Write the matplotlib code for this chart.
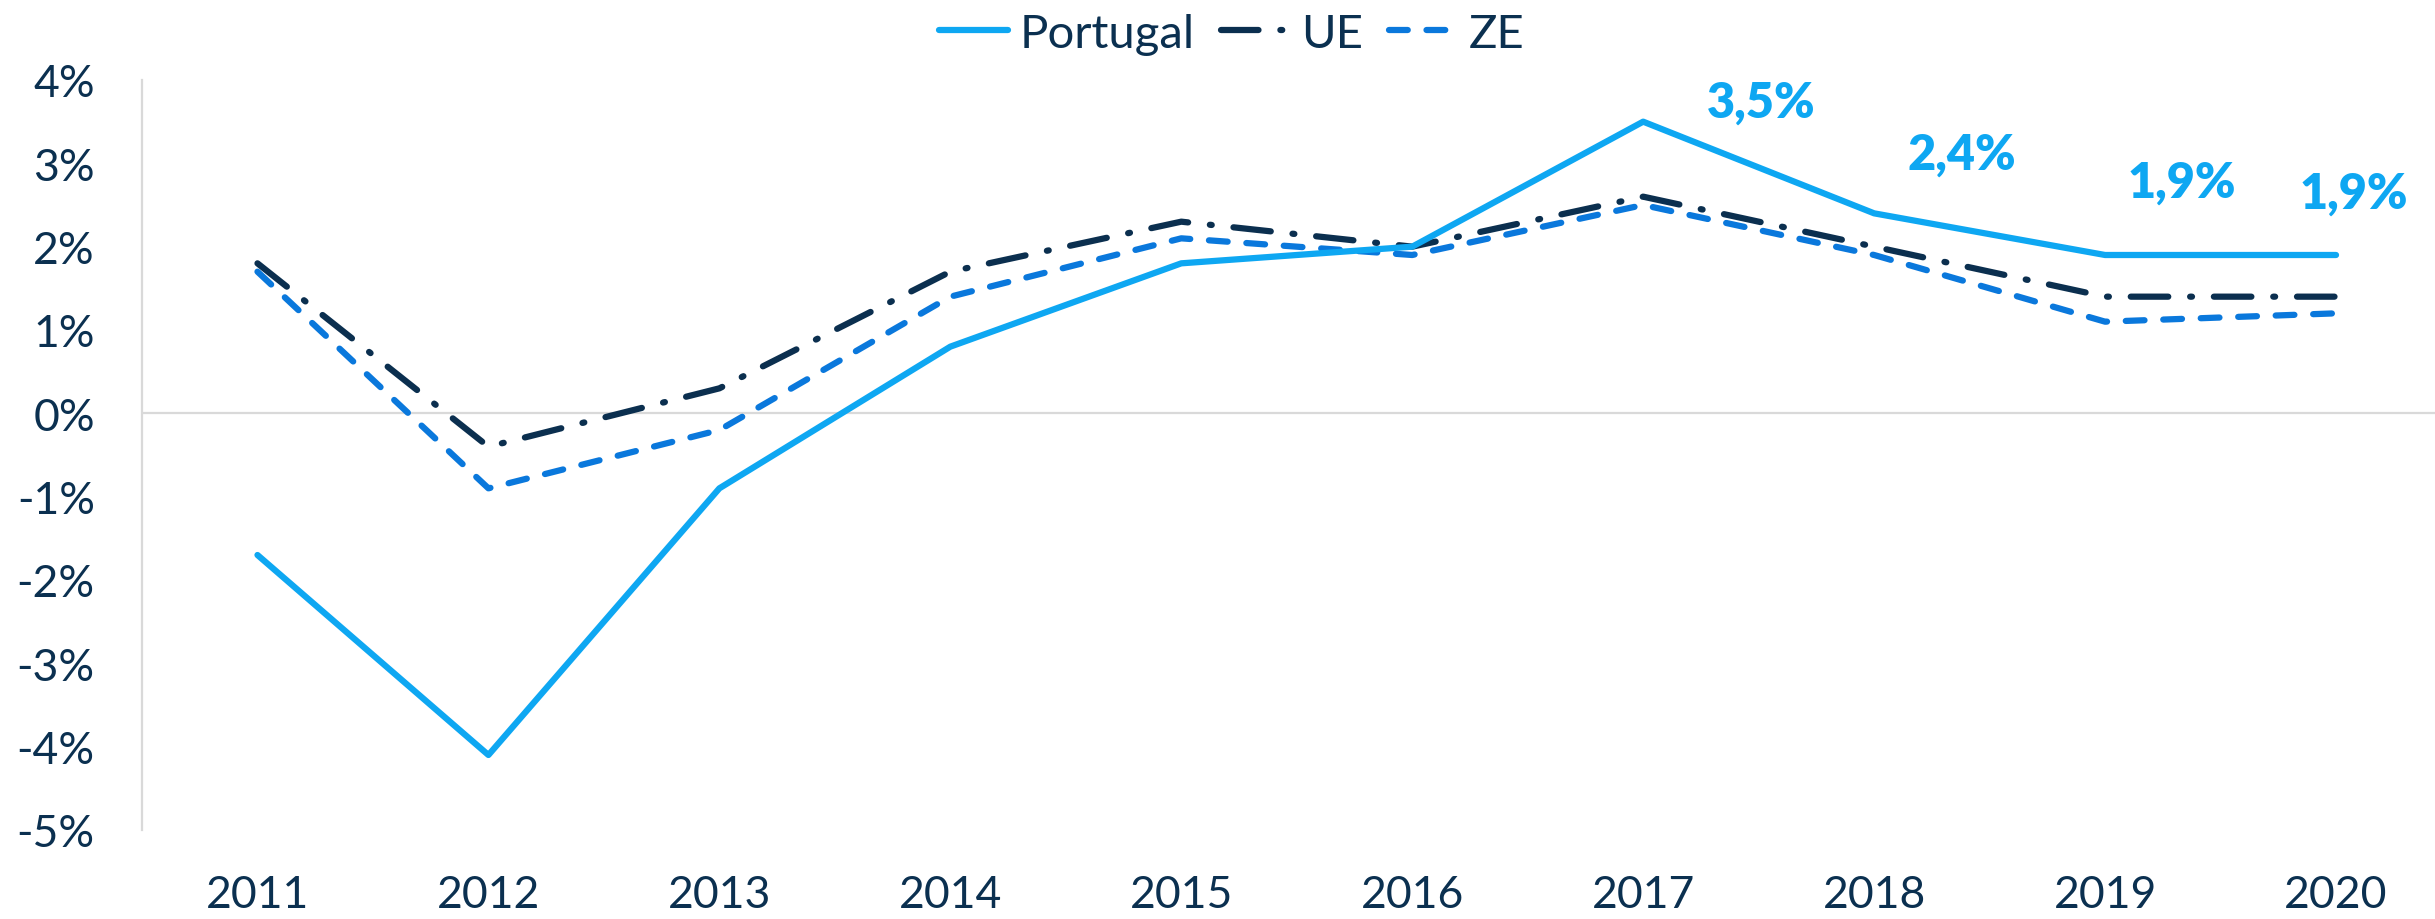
import matplotlib
matplotlib.use("Agg")
import matplotlib.pyplot as plt
from matplotlib.ticker import FuncFormatter

plt.rcParams['font.family'] = ['Lato', 'DejaVu Sans']

years = ['2011', '2012', '2013', '2014', '2015', '2016', '2017', '2018', '2019', '2020']
portugal = [-1.7, -4.1, -0.9, 0.8, 1.8, 2.0, 3.5, 2.4, 1.9, 1.9]
ue = [1.8, -0.4, 0.3, 1.7, 2.3, 2.0, 2.6, 2.0, 1.4, 1.4]
ze = [1.7, -0.9, -0.2, 1.4, 2.1, 1.9, 2.5, 1.9, 1.1, 1.2]
label_years = ['2017', '2018', '2019', '2020']
label_texts = ['3,5%', '2,4%', '1,9%', '1,9%']
label_offsets = [(118, 20), (88, 59), (77, 73), (18, 62)]  # pixel offsets (style)

TEXT = '#0B3050'
C_PT = '#0EA7F2'
C_UE = '#0B2F4F'
C_ZE = '#0A78DC'
GRID = '#D9D9D9'

fig = plt.figure(figsize=(24.35, 9.2), dpi=100)
ax = fig.add_axes([142/2435, 1-831/920, 1-142/2435, (831-81)/920])

x = list(range(len(years)))
lw = 4.5
ax.plot(x, portugal, color=C_PT, lw=lw, label='Portugal', solid_capstyle='round', zorder=4)
ax.plot(x, ue, color=C_UE, lw=lw, label='UE', dashes=(6, 3.5, 0.3, 3.5),
        dash_capstyle='round', zorder=3)
ax.plot(x, ze, color=C_ZE, lw=lw, label='ZE', dashes=(3, 3),
        dash_capstyle='round', zorder=3)

for yr, txt, (dx, dy) in zip(label_years, label_texts, label_offsets):
    i = years.index(yr)
    ax.annotate(txt, (i, portugal[i]), xytext=(dx, dy), textcoords='offset pixels',
                ha='center', va='center', fontsize=35, fontweight='heavy', color=C_PT)

ax.axhline(0, color=GRID, lw=1.6, zorder=1)
ax.set_xlim(-0.5, 9 + 99/231)
ax.set_ylim(-5, 4)
ax.set_yticks(range(-5, 5))
ax.yaxis.set_major_formatter(FuncFormatter(lambda v, p: f'{int(v)}%'))
ax.set_xticks(x)
ax.set_xticklabels(years)
for s in ['top', 'right', 'bottom']:
    ax.spines[s].set_visible(False)
ax.spines['left'].set_color(GRID)
ax.spines['left'].set_linewidth(1.6)
ax.tick_params(axis='y', length=0, pad=34, labelsize=32, labelcolor=TEXT)
ax.tick_params(axis='x', length=0, pad=32, labelsize=32, labelcolor=TEXT)

fig.legend(loc='center', bbox_to_anchor=(0.506, 0.962), ncol=3, frameon=False,
           fontsize=34, labelcolor=TEXT, handlelength=1.45, columnspacing=0.55,
           handletextpad=0.25)

fig.savefig('out.png', dpi=100)
